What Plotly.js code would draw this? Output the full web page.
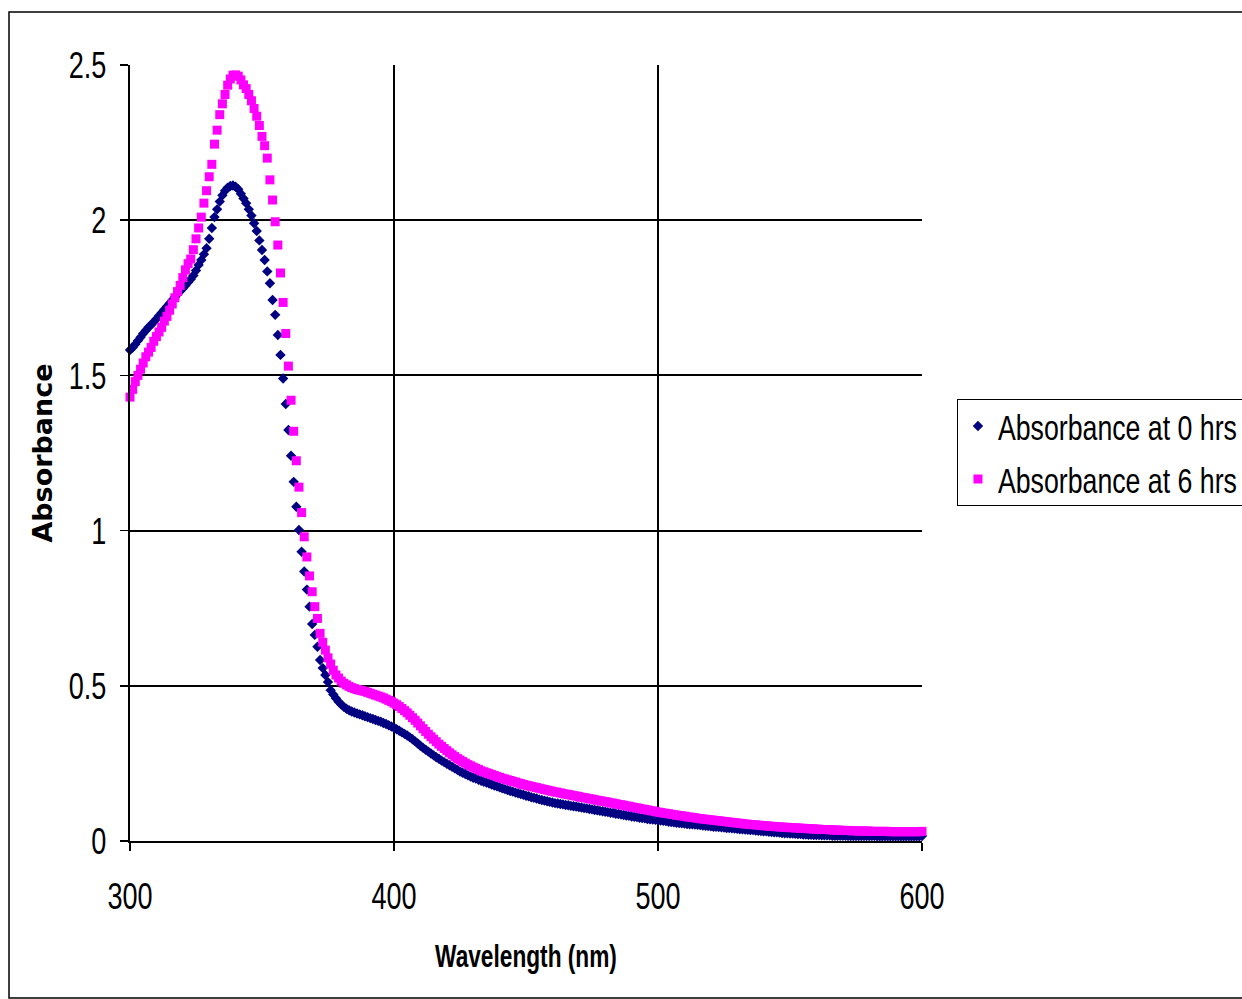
<!DOCTYPE html>
<html>
<head>
<meta charset="utf-8">
<script src="https://cdn.plot.ly/plotly-3.0.1.min.js"></script>
<style>
html,body{margin:0;padding:0;background:#fff;}
#chart{width:1242px;height:999px;}
</style>
</head>
<body>
<div id="chart"></div>
<script>
var wavelengths = [
300,301,302,303,304,305,306,307,308,309,
310,311,312,313,314,315,316,317,318,319,
320,321,322,323,324,325,326,327,328,329,
330,331,332,333,334,335,336,337,338,339,
340,341,342,343,344,345,346,347,348,349,
350,351,352,353,354,355,356,357,358,359,
360,361,362,363,364,365,366,367,368,369,
370,371,372,373,374,375,376,377,378,379,
380,381,382,383,384,385,386,387,388,389,
390,391,392,393,394,395,396,397,398,399,
400,401,402,403,404,405,406,407,408,409,
410,411,412,413,414,415,416,417,418,419,
420,421,422,423,424,425,426,427,428,429,
430,431,432,433,434,435,436,437,438,439,
440,441,442,443,444,445,446,447,448,449,
450,451,452,453,454,455,456,457,458,459,
460,461,462,463,464,465,466,467,468,469,
470,471,472,473,474,475,476,477,478,479,
480,481,482,483,484,485,486,487,488,489,
490,491,492,493,494,495,496,497,498,499,
500,501,502,503,504,505,506,507,508,509,
510,511,512,513,514,515,516,517,518,519,
520,521,522,523,524,525,526,527,528,529,
530,531,532,533,534,535,536,537,538,539,
540,541,542,543,544,545,546,547,548,549,
550,551,552,553,554,555,556,557,558,559,
560,561,562,563,564,565,566,567,568,569,
570,571,572,573,574,575,576,577,578,579,
580,581,582,583,584,585,586,587,588,589,
590,591,592,593,594,595,596,597,598,599,
600];

var absorbance0hrs = [
1.582,1.590,1.600,1.612,1.623,1.635,1.645,1.655,1.663,1.672,
1.682,1.692,1.702,1.712,1.722,1.732,1.742,1.752,1.762,1.772,
1.780,1.790,1.800,1.810,1.822,1.838,1.856,1.872,1.890,1.910,
1.940,1.975,2.010,2.035,2.060,2.080,2.095,2.105,2.110,2.112,
2.108,2.100,2.085,2.070,2.055,2.035,2.015,1.990,1.965,1.935,
1.904,1.872,1.835,1.797,1.743,1.695,1.630,1.566,1.490,1.408,
1.324,1.241,1.157,1.077,1.002,0.932,0.868,0.810,0.755,0.699,
0.664,0.626,0.583,0.557,0.535,0.512,0.486,0.472,0.460,0.449,
0.440,0.432,0.426,0.421,0.417,0.414,0.411,0.408,0.405,0.402,
0.399,0.396,0.393,0.390,0.387,0.384,0.380,0.377,0.373,0.369,
0.365,0.360,0.355,0.350,0.345,0.340,0.334,0.328,0.321,0.314,
0.307,0.300,0.294,0.288,0.282,0.276,0.270,0.265,0.259,0.254,
0.249,0.244,0.239,0.234,0.229,0.224,0.220,0.216,0.212,0.208,
0.204,0.201,0.197,0.194,0.191,0.188,0.185,0.182,0.179,0.176,
0.173,0.170,0.167,0.164,0.161,0.159,0.156,0.154,0.151,0.149,
0.146,0.144,0.141,0.139,0.137,0.134,0.132,0.130,0.128,0.126,
0.124,0.122,0.121,0.119,0.118,0.116,0.115,0.113,0.112,0.111,
0.109,0.108,0.106,0.105,0.103,0.102,0.100,0.099,0.097,0.096,
0.094,0.093,0.091,0.090,0.088,0.087,0.085,0.084,0.082,0.081,
0.079,0.078,0.077,0.075,0.074,0.073,0.071,0.070,0.069,0.068,
0.067,0.066,0.065,0.064,0.062,0.061,0.060,0.059,0.058,0.057,
0.056,0.055,0.054,0.054,0.053,0.052,0.051,0.050,0.049,0.048,
0.047,0.046,0.046,0.045,0.044,0.043,0.042,0.042,0.041,0.040,
0.039,0.038,0.038,0.037,0.036,0.035,0.035,0.034,0.033,0.032,
0.031,0.031,0.030,0.029,0.028,0.028,0.027,0.026,0.025,0.025,
0.024,0.024,0.023,0.022,0.022,0.021,0.021,0.020,0.020,0.019,
0.019,0.019,0.018,0.018,0.018,0.018,0.017,0.017,0.017,0.017,
0.017,0.017,0.016,0.016,0.016,0.016,0.016,0.016,0.016,0.016,
0.016,0.016,0.016,0.015,0.015,0.015,0.015,0.015,0.015,0.015,
0.015,0.015,0.015,0.015,0.015,0.015,0.015,0.015,0.015,0.015,
0.016];

var absorbance6hrs = [
1.430,1.455,1.480,1.500,1.520,1.540,1.560,1.575,1.590,1.610,
1.625,1.640,1.655,1.675,1.690,1.710,1.730,1.750,1.770,1.790,
1.815,1.840,1.860,1.875,1.905,1.940,1.975,2.010,2.055,2.095,
2.140,2.180,2.245,2.290,2.340,2.375,2.405,2.435,2.455,2.467,
2.468,2.464,2.452,2.436,2.424,2.405,2.385,2.360,2.335,2.305,
2.270,2.240,2.200,2.130,2.065,1.995,1.920,1.830,1.735,1.635,
1.530,1.420,1.320,1.225,1.140,1.058,0.980,0.915,0.854,0.803,
0.755,0.717,0.669,0.640,0.615,0.590,0.570,0.550,0.535,0.525,
0.515,0.508,0.503,0.498,0.494,0.491,0.488,0.486,0.484,0.482,
0.479,0.476,0.473,0.470,0.467,0.464,0.461,0.457,0.453,0.449,
0.444,0.439,0.433,0.427,0.420,0.413,0.405,0.397,0.389,0.380,
0.371,0.362,0.353,0.344,0.336,0.328,0.320,0.312,0.305,0.298,
0.291,0.284,0.278,0.272,0.266,0.261,0.256,0.251,0.246,0.242,
0.238,0.234,0.230,0.226,0.223,0.220,0.217,0.214,0.211,0.208,
0.205,0.202,0.200,0.197,0.195,0.192,0.190,0.187,0.185,0.182,
0.180,0.178,0.176,0.174,0.172,0.170,0.168,0.166,0.164,0.162,
0.160,0.158,0.157,0.155,0.153,0.151,0.150,0.148,0.146,0.145,
0.143,0.141,0.140,0.138,0.136,0.135,0.133,0.131,0.130,0.128,
0.127,0.125,0.123,0.122,0.120,0.118,0.117,0.115,0.113,0.112,
0.110,0.108,0.107,0.105,0.103,0.102,0.100,0.098,0.097,0.095,
0.093,0.092,0.090,0.089,0.088,0.086,0.085,0.083,0.082,0.081,
0.080,0.078,0.077,0.076,0.075,0.073,0.072,0.071,0.070,0.069,
0.068,0.067,0.066,0.065,0.064,0.063,0.062,0.061,0.060,0.059,
0.058,0.057,0.056,0.055,0.054,0.053,0.053,0.052,0.051,0.050,
0.049,0.049,0.048,0.047,0.047,0.046,0.045,0.045,0.044,0.044,
0.043,0.043,0.042,0.042,0.041,0.041,0.040,0.040,0.039,0.039,
0.038,0.038,0.037,0.037,0.037,0.036,0.036,0.035,0.035,0.035,
0.034,0.034,0.034,0.033,0.033,0.033,0.032,0.032,0.032,0.032,
0.032,0.031,0.031,0.031,0.031,0.031,0.031,0.031,0.030,0.030,
0.030,0.030,0.030,0.030,0.030,0.030,0.030,0.030,0.030,0.030,
0.031];

var seriesNames = ['Absorbance at 0 hrs', 'Absorbance at 6 hrs'];
var xTickVals = [300, 400, 500, 600];
var xTickText = ['300', '400', '500', '600'];
var yTickVals = [0, 0.5, 1, 1.5, 2, 2.5];
var yTickText = ['0', '0.5', '1', '1.5', '2', '2.5'];
var xTitle = 'Wavelength (nm)';
var yTitle = 'Absorbance';

var sans = '"Liberation Sans", Arial, sans-serif';

var traces = [
  {
    x: wavelengths, y: absorbance0hrs, name: seriesNames[0],
    type: 'scatter', mode: 'markers', cliponaxis: false,
    legendgroup: 'a',
    marker: {symbol: 'diamond', size: 8, color: '#000080', line: {width: 0}}
  },
  {
    x: wavelengths, y: absorbance6hrs, name: seriesNames[1],
    type: 'scatter', mode: 'markers', cliponaxis: false,
    legendgroup: 'b',
    marker: {symbol: 'square', size: 9, color: '#FF00FF', line: {width: 0}}
  }
];

var layout = {
  width: 1242, height: 999,
  margin: {l: 130, r: 320, t: 65, b: 158},
  paper_bgcolor: '#ffffff', plot_bgcolor: '#ffffff',
  showlegend: true,
  font: {family: sans, size: 33, color: '#000'},
  xaxis: {
    range: [300, 600], tickmode: 'array', tickvals: xTickVals, ticktext: xTickText,
    showgrid: true, gridcolor: '#000', gridwidth: 2,
    showline: true, linecolor: '#000', linewidth: 2, mirror: false,
    ticks: 'outside', ticklen: 8, tickcolor: '#000', tickwidth: 1.5,
    ticklabelstandoff: 17,
    zeroline: false,
    tickfont: {family: sans, size: 33, color: '#000'},
    title: {text: xTitle, standoff: 33, font: {family: sans, size: 28, color: '#000', weight: 'bold'}}
  },
  yaxis: {
    range: [0, 2.5], tickmode: 'array', tickvals: yTickVals, ticktext: yTickText,
    showgrid: true, gridcolor: '#000', gridwidth: 2,
    showline: true, linecolor: '#000', linewidth: 2,
    ticks: 'outside', ticklen: 8, tickcolor: '#000', tickwidth: 1.5,
    ticklabelstandoff: 7,
    zeroline: false,
    tickfont: {family: sans, size: 33, color: '#000'},
    title: {text: yTitle, standoff: 0, font: {family: '"DejaVu Sans", sans-serif', size: 27, color: '#000', weight: 'bold'}}
  },
  legend: {
    xref: 'container', yref: 'container',
    x: 0.7705, xanchor: 'left', y: 0.6006, yanchor: 'top',
    bgcolor: '#ffffff', bordercolor: '#000', borderwidth: 1,
    traceorder: 'grouped', tracegroupgap: 11,
    font: {family: sans, size: 30, color: '#000'}
  },
  shapes: [
    {type: 'rect', xref: 'paper', yref: 'paper', layer: 'below',
     x0: (9 - 130) / 792, x1: (1260 - 130) / 792,
     y0: (841 - 998) / 776, y1: (841 - 12) / 776,
     line: {color: '#000', width: 1.5}, fillcolor: 'rgba(0,0,0,0)'}
  ]
};

// The reference lettering is tall and narrow; squeeze the rendered SVG text in place.
function squeeze(gd, selector, sx, sy, anchor) {
  var nodes = gd.querySelectorAll(selector);
  for (var i = 0; i < nodes.length; i++) {
    var el = nodes[i];
    var bb = el.getBBox();
    var cx = anchor === 'left' ? bb.x : (anchor === 'right' ? bb.x + bb.width : bb.x + bb.width / 2);
    var cy = bb.y + bb.height / 2;
    var old = el.getAttribute('transform') || '';
    el.setAttribute('transform', old + ' translate(' + cx + ',' + cy + ') scale(' + sx + ',' + sy + ') translate(' + (-cx) + ',' + (-cy) + ')');
  }
}

Plotly.newPlot('chart', traces, layout, {displayModeBar: false, staticPlot: true}).then(function (gd) {
  squeeze(gd, '.xtick text', 0.82, 1.14, 'middle');
  squeeze(gd, '.ytick text', 0.82, 1.14, 'right');
  squeeze(gd, '.legendtext', 0.89, 1.2, 'left');
  squeeze(gd, '.g-xtitle text', 0.81, 1.12, 'middle');
});
</script>
</body>
</html>
